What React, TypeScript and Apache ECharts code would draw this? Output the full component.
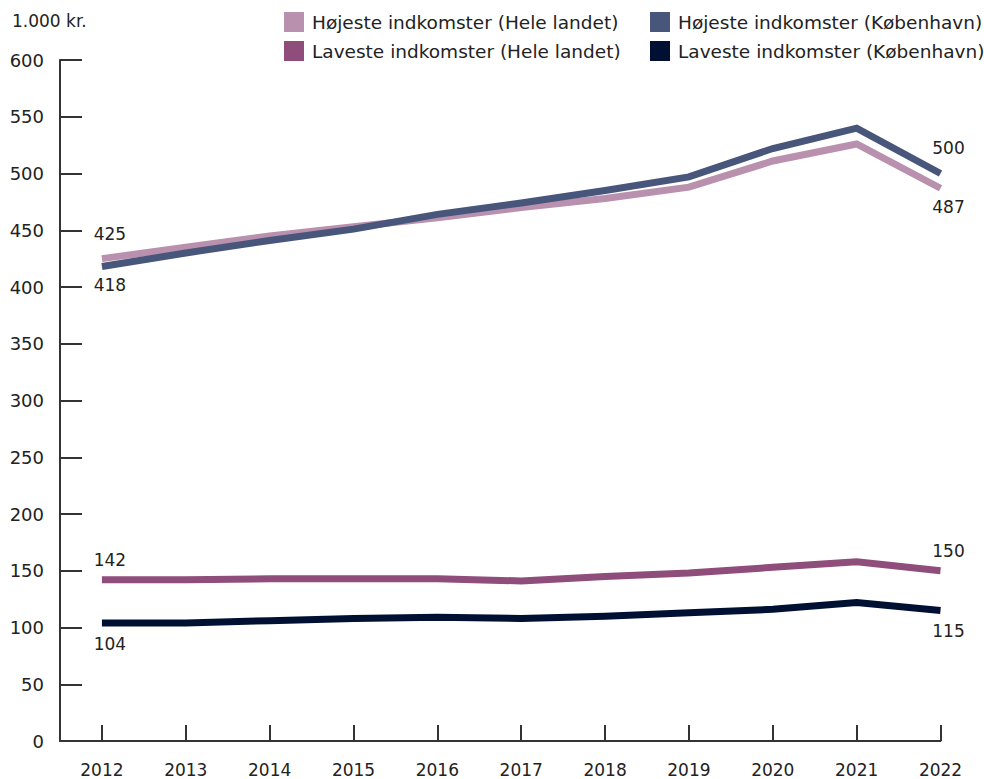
import React, { useEffect, useRef } from "react";
import * as echarts from "echarts";

const years = [2012, 2013, 2014, 2015, 2016, 2017, 2018, 2019, 2020, 2021, 2022];
const hojHele = [425, 435, 445, 453, 461, 470, 478, 488, 511, 526, 487];
const hojKbh = [418, 430, 441, 451, 464, 474, 485, 497, 522, 540, 500];
const lavHele = [142, 142, 143, 143, 143, 141, 145, 148, 153, 158, 150];
const lavKbh = [104, 104, 106, 108, 109, 108, 110, 113, 116, 122, 115];
const yTicks = [0, 50, 100, 150, 200, 250, 300, 350, 400, 450, 500, 550, 600];

const names = [
  "Højeste indkomster (Hele landet)",
  "Laveste indkomster (Hele landet)",
  "Højeste indkomster (København)",
  "Laveste indkomster (København)",
];
const colors = ["#b990ad", "#8f4d7b", "#47567a", "#001033"];
const FONT = "DejaVu Sans";
const FS = 17;
const TXT = "#222";

function build(
  values: number[],
  firstPos: string,
  lastPos: string,
  firstDist: number,
  lastDist: number
) {
  return values.map((v, i) => {
    const item: any = { value: [years[i], v] };
    if (i === 0 || i === values.length - 1) {
      item.label = {
        show: true,
        position: i === 0 ? firstPos : lastPos,
        distance: i === 0 ? firstDist : lastDist,
        offset: [8, 0],
        formatter: String(v),
        color: TXT,
        fontSize: FS,
        fontFamily: FONT,
      };
    }
    return item;
  });
}

export default function App() {
  const ref = useRef<HTMLDivElement>(null);
  useEffect(() => {
    const chart = echarts.init(ref.current!, null, { renderer: "svg" });
    const series = [
      build(hojHele, "top", "bottom", 16, 10),
      build(lavHele, "top", "top", 11, 11),
      build(hojKbh, "bottom", "top", 10, 17),
      build(lavKbh, "bottom", "bottom", 13, 12),
    ].map((data, i) => ({
      name: names[i],
      type: "line",
      data,
      symbol: "circle",
      symbolSize: 0,
      showSymbol: true,
      lineStyle: { color: colors[i], width: 7, cap: "butt", join: "miter" },
      itemStyle: { color: colors[i] },
      z: 2 + i,
    }));
    const legendCommon = {
      orient: "vertical",
      top: 7,
      icon: "rect",
      itemWidth: 20,
      itemHeight: 20,
      itemGap: 9,
      selectedMode: false,
      textStyle: { color: TXT, fontSize: 18.5, fontFamily: FONT, padding: [0, 0, 0, 3] },
    };
    chart.setOption({
      animation: false,
      textStyle: { fontFamily: FONT },
      title: {
        text: "1.000 kr.",
        left: 7,
        top: 7,
        textStyle: { color: TXT, fontSize: FS, fontWeight: "normal", fontFamily: FONT },
      },
      legend: [
        { ...legendCommon, left: 279, data: [names[0], names[1]] },
        { ...legendCommon, left: 645, data: [names[2], names[3]] },
      ],
      grid: { left: 60, right: 43.5, top: 60, bottom: 38, containLabel: false },
      xAxis: {
        type: "value",
        min: 2011.5,
        max: 2022,
        axisLine: { show: true, lineStyle: { color: "#333", width: 2 } },
        axisTick: {
          show: true,
          inside: true,
          length: 16,
          customValues: years,
          lineStyle: { color: "#333", width: 2 },
        },
        axisLabel: {
          customValues: years,
          formatter: (v: number) => String(v),
          color: TXT,
          fontSize: FS,
          fontFamily: FONT,
          lineHeight: 17,
          margin: 20,
        },
        splitLine: { show: false },
      },
      yAxis: {
        type: "value",
        min: 0,
        max: 600,
        interval: 50,
        axisLine: { show: true, lineStyle: { color: "#333", width: 2 } },
        axisTick: {
          show: true,
          inside: true,
          length: 22,
          customValues: yTicks,
          lineStyle: { color: "#333", width: 2 },
        },
        axisLabel: { color: TXT, fontSize: 18, fontFamily: FONT, margin: 16 },
        splitLine: { show: false },
      },
      series,
    });
    return () => chart.dispose();
  }, []);
  return <div ref={ref} style={{ width: 984, height: 779, position: "absolute", left: 0, top: 0 }} />;
}
